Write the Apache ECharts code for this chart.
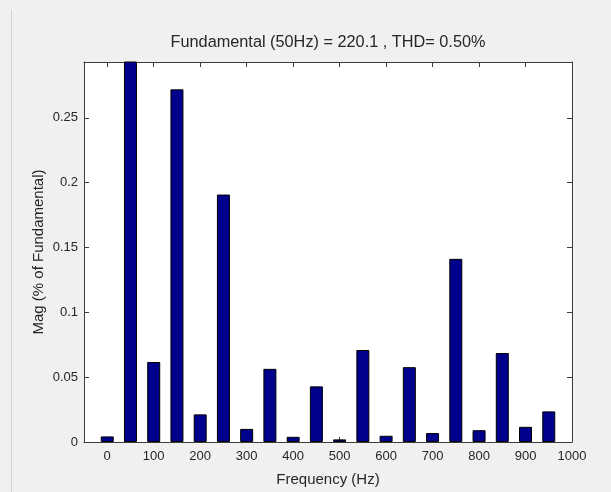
<!DOCTYPE html>
<html>
<head>
<meta charset="utf-8">
<script src="https://cdn.jsdelivr.net/npm/echarts@6/dist/echarts.min.js"></script>
<style>
  html, body { margin: 0; padding: 0; background: #f0f0f0; }
  #chart { width: 611px; height: 492px; }
</style>
</head>
<body>
<div id="chart"></div>
<script>
// Harmonic frequencies (Hz)
const frequencies = [0, 50, 100, 150, 200, 250, 300, 350, 400, 450, 500, 550, 600, 650, 700, 750, 800, 850, 900, 950];
// Magnitude (% of fundamental); the 50 Hz fundamental is 100 and runs off the top of the axes
const magnitudes = [0.0043, 100, 0.0617, 0.2719, 0.0213, 0.1908, 0.0101, 0.0564, 0.0040, 0.0429,
                    0.0020, 0.0709, 0.0048, 0.0577, 0.0069, 0.1412, 0.0091, 0.0686, 0.0117, 0.0236];
// Tick values
const xTicks = [0, 100, 200, 300, 400, 500, 600, 700, 800, 900, 1000];
const yTicks = [0, 0.05, 0.1, 0.15, 0.2, 0.25];

const titleText = 'Fundamental (50Hz) = 220.1 , THD= 0.50%';
const xName = 'Frequency (Hz)';
const yName = 'Mag (% of Fundamental)';

const FONT = "'Liberation Sans', Arial, Helvetica, sans-serif";
const TXT = '#262626';
const AX = '#3c3c3c';

const chart = echarts.init(document.getElementById('chart'), null, { renderer: 'canvas' });

const barData = frequencies.map((f, i) => [f, magnitudes[i]]);

const xBase = {
  type: 'value', min: -50, max: 1000,
  axisLine: { show: true, onZero: false, lineStyle: { color: AX, width: 1 } },
  axisTick: { show: true, inside: true, length: 5, customValues: xTicks, lineStyle: { color: AX } },
  splitLine: { show: false },
  minorTick: { show: false }
};
const yBase = {
  type: 'value', min: 0, max: 0.293,
  axisLine: { show: true, onZero: false, lineStyle: { color: AX, width: 1 } },
  axisTick: { show: true, inside: true, length: 5, customValues: yTicks, lineStyle: { color: AX } },
  splitLine: { show: false }
};

chart.setOption({
  backgroundColor: '#f0f0f0',
  animation: false,
  title: {
    text: titleText,
    left: 323, top: 30, textAlign: 'center',
    textStyle: { fontFamily: FONT, fontSize: 16.3, fontWeight: 'normal', color: TXT }
  },
  grid: { left: 84, right: 39, top: 62, bottom: 46, show: true, backgroundColor: '#ffffff', borderWidth: 0 },
  xAxis: [
    Object.assign({}, xBase, {
      position: 'bottom',
      name: xName, nameLocation: 'middle', nameGap: 30, nameMoveOverlap: false,
      nameTextStyle: { fontFamily: FONT, fontSize: 15, color: TXT },
      axisLabel: { show: true, customValues: xTicks, margin: 8, fontFamily: FONT, fontSize: 13, color: TXT,
                   formatter: v => String(v) }
    }),
    Object.assign({}, xBase, { position: 'top', axisLabel: { show: false } })
  ],
  yAxis: [
    Object.assign({}, yBase, {
      position: 'left',
      name: yName, nameLocation: 'middle', nameGap: 38, nameRotate: 90, nameMoveOverlap: false,
      nameTextStyle: { fontFamily: FONT, fontSize: 15, color: TXT },
      axisLabel: { show: true, customValues: yTicks, margin: 6, fontFamily: FONT, fontSize: 13, color: TXT,
                   formatter: v => String(v) }
    }),
    Object.assign({}, yBase, { position: 'right', axisLabel: { show: false } })
  ],
  graphic: [{
    type: 'line', silent: true,
    shape: { x1: 11.5, y1: 10, x2: 11.5, y2: 492 },
    style: { stroke: '#d2d2d2', lineWidth: 1 }
  }],
  series: [{
    type: 'bar',
    xAxisIndex: 0, yAxisIndex: 0,
    data: barData,
    barWidth: 13,
    clip: true,
    itemStyle: { color: '#00008c', borderColor: '#000000', borderWidth: 1 }
  }]
});
</script>
</body>
</html>
